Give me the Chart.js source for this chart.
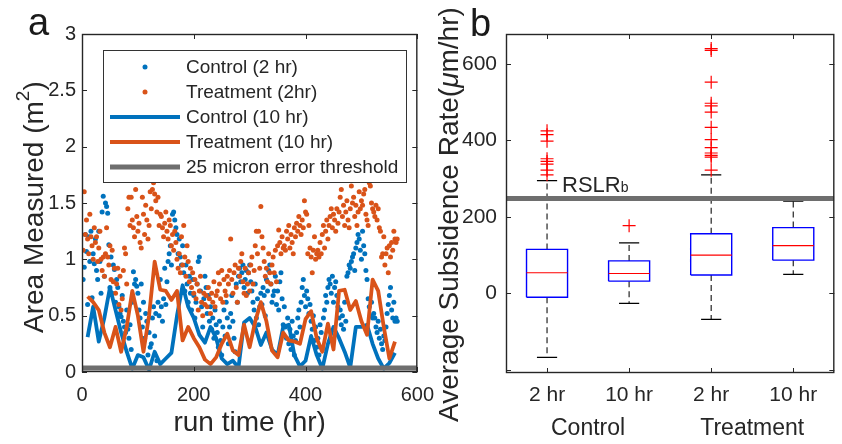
<!DOCTYPE html>
<html><head><meta charset="utf-8">
<script src="https://cdn.jsdelivr.net/npm/chart.js@4.4.1/dist/chart.umd.min.js"></script>
<style>
html,body{margin:0;padding:0;background:#fff;}
#wrap{position:relative;width:842px;height:444px;overflow:hidden;background:#fff;}
#ca{position:absolute;left:0;top:0;width:445px;height:444px;}
#cb{position:absolute;left:430px;top:0;width:412px;height:444px;}
</style></head><body>
<div id="wrap"><canvas id="ca" width="445" height="444"></canvas><canvas id="cb" width="412" height="444"></canvas></div>
<script>
// ---------- Panel a data ----------
// Control / Treatment sampled every 2 hr (values in m^2), starting at 2 hr
const control2hr = [
0.82,0.93,1.22,1.07,0.60,1.20,0.98,1.25,0.66,1.05,
0.96,1.18,0.90,0.82,1.25,0.98,0.70,1.42,1.56,0.85,
1.50,1.47,1.41,1.13,0.75,1.02,0.70,0.95,0.91,0.62,
0.82,0.75,0.58,0.52,0.49,0.68,0.45,0.40,0.35,0.55,
0.38,0.30,0.42,0.20,0.62,0.89,0.78,0.82,0.76,0.70,
0.55,0.48,0.78,0.40,0.62,0.30,0.52,0.45,0.15,0.35,
0.22,0.25,0.48,0.58,0.32,0.52,0.10,0.62,0.50,0.82,
0.58,0.45,0.65,0.92,0.60,0.80,0.98,1.05,1.12,0.95,
1.40,1.42,1.35,1.28,1.22,1.05,1.18,1.02,0.95,1.12,
0.88,0.72,0.95,0.78,0.62,0.85,0.70,0.55,0.82,0.68,
0.48,0.62,0.78,0.98,1.02,0.72,0.58,0.40,0.65,0.85,
0.75,0.52,0.68,0.45,0.58,0.38,0.48,0.30,0.55,0.42,
0.35,0.22,0.45,0.28,0.15,0.40,0.55,0.32,0.62,0.48,
0.25,0.40,0.52,0.68,0.45,0.30,0.18,0.78,0.62,0.85,
0.92,0.80,0.88,0.95,0.75,0.82,0.90,0.70,0.88,0.95,
0.80,0.72,0.62,0.55,0.78,0.48,0.65,0.42,0.58,0.70,
0.60,0.75,0.68,0.50,0.82,0.72,0.90,0.95,0.78,0.62,
0.68,0.72,0.85,0.60,0.72,0.55,0.80,0.88,0.65,0.42,
0.58,0.40,0.30,0.48,0.25,0.38,0.20,0.45,0.32,0.15,
0.28,0.35,0.48,0.55,0.40,0.62,0.75,0.82,0.68,0.58,
0.72,0.65,0.52,0.60,0.45,0.38,0.50,0.28,0.40,0.22,
0.30,0.15,0.42,0.35,0.20,0.48,0.55,0.68,0.62,0.75,
0.82,0.78,0.70,0.85,0.62,0.75,0.80,0.68,0.58,0.48,
0.55,0.42,0.50,0.38,0.62,0.45,0.85,0.88,0.95,0.92,
0.98,1.02,1.05,0.90,1.10,1.15,1.22,1.18,1.08,1.00,
1.25,1.12,1.05,0.90,0.82,0.65,0.58,0.50,0.62,0.48,
0.52,0.48,0.40,0.35,0.45,0.30,0.38,0.25,0.20,0.32,
0.28,0.40,0.52,0.60,0.68,0.75,0.55,0.48,0.62,0.45,
0.48,0.45];
const treatment2hr = [
1.08,1.60,1.22,1.35,1.18,1.05,1.40,1.20,1.12,1.00,
1.28,1.15,1.20,0.98,1.10,1.25,1.00,0.90,1.02,0.85,
1.05,1.28,1.02,0.95,1.12,0.82,1.08,0.80,0.92,0.70,
0.78,0.92,0.60,0.85,0.55,0.65,0.90,1.10,1.05,0.78,
1.45,1.55,1.30,1.55,1.35,1.28,1.20,1.62,1.38,1.25,
1.32,1.15,1.10,1.55,1.40,1.22,1.48,1.35,1.18,1.30,
1.60,1.45,1.62,1.68,1.58,1.52,1.42,1.55,1.30,1.40,
1.38,1.28,1.20,1.32,1.42,1.25,1.18,1.35,1.30,1.12,
1.22,1.08,1.25,1.15,1.00,0.92,1.05,0.88,1.20,0.95,
1.30,1.02,0.85,1.12,0.98,0.80,0.92,0.75,0.88,0.70,
0.82,0.65,0.78,0.55,0.72,0.85,0.62,0.50,0.70,0.60,
0.68,0.58,0.75,0.65,0.52,0.70,0.62,0.80,0.58,0.68,
0.72,0.88,0.78,0.65,0.90,0.62,0.82,0.72,0.68,0.85,
0.78,0.90,1.18,0.82,0.70,0.88,0.95,0.75,0.62,0.92,
0.85,0.98,1.05,0.80,0.70,0.92,0.68,0.78,0.88,0.72,
0.95,1.02,0.78,0.90,1.12,1.25,1.05,1.25,0.92,1.47,
1.20,1.10,0.98,0.85,0.92,0.80,1.05,0.88,0.78,0.95,
1.02,0.88,1.08,0.80,1.12,1.26,1.15,1.05,1.20,1.10,
1.12,1.08,1.25,1.18,1.30,1.10,1.22,1.15,1.05,1.28,
1.20,1.32,1.25,1.38,1.30,1.22,1.35,1.28,1.52,1.42,
1.40,1.05,1.30,1.10,1.02,0.88,1.08,1.20,1.00,1.05,
1.08,1.02,1.15,1.05,1.22,1.30,1.10,1.25,1.35,1.18,
1.30,1.38,1.45,1.28,1.40,1.35,1.25,1.45,1.32,1.42,
1.55,1.62,1.38,1.48,1.30,1.42,1.52,1.35,1.28,1.45,
1.65,1.50,1.55,1.38,1.48,1.30,1.42,1.60,1.45,1.52,
1.48,1.58,1.62,1.40,1.35,1.30,1.68,1.65,1.50,1.45,
1.42,1.38,1.48,1.35,1.45,1.28,1.25,1.02,1.05,1.20,
0.95,1.05,1.10,0.88,1.12,1.02,1.15,1.08,1.25,1.18,
1.15,1.18];
// Control / Treatment sampled every 10 hr, starting at 10 hr
const control10hr = [
0.31,0.58,0.27,0.48,0.75,0.55,0.35,0.18,0.03,0.15,
0.13,0.02,0.18,0.07,0.12,0.17,0.50,0.77,0.58,0.48,
0.33,0.26,0.40,0.30,0.12,0.07,0.10,0.04,0.44,0.48,
0.40,0.24,0.35,0.20,0.15,0.40,0.42,0.15,0.05,0.10,
0.32,0.15,0.03,0.25,0.40,0.30,0.18,0.04,0.40,0.40,
0.42,0.25,0.12,0.03,0.08,0.17];
const treatment10hr = [
0.67,0.62,0.55,0.35,0.22,0.40,0.18,0.40,0.72,0.50,
0.18,0.50,0.98,0.73,0.72,0.64,0.72,0.28,0.40,0.30,
0.22,0.11,0.07,0.13,0.25,0.34,0.19,0.15,0.42,0.22,
0.45,0.62,0.45,0.19,0.13,0.35,0.28,0.27,0.25,0.47,
0.54,0.30,0.18,0.43,0.20,0.72,0.73,0.55,0.63,0.45,
0.33,0.82,0.72,0.40,0.12,0.27];
const errorThreshold = 0.035;      // m^2, 25 micron error threshold
const runTimeRange = [0, 600];
const areaTicks = [0, 0.5, 1, 1.5, 2, 2.5, 3];
const runTimeTicks = [0, 200, 400, 600];
const seriesLabels = ['Control (2 hr)', 'Treatment (2hr)', 'Control (10 hr)', 'Treatment (10 hr)', '25 micron error threshold'];

// ---------- Panel b data ----------
const boxLabels = ['2 hr', '10 hr', '2 hr', '10 hr'];
const groupLabels = ['Control', 'Treatment'];
const whiskerLow  = [-167, -26, -68, 50];
const quartile1   = [-10, 32, 48, 87];
const medianVal   = [54, 52, 100, 125];
const quartile3   = [115, 85, 156, 172];
const whiskerHigh = [295, 132, 310, 241];
const outlierVals = [
  [425, 415, 398, 352, 345, 338, 322, 310],
  [177],
  [640, 635, 552, 497, 490, 474, 434, 402, 381, 367, 361, 356, 322],
  []
];
const rslrValue = 248;
const rateTicks = [-200, 0, 200, 400, 600];
const rateTickLabels = [0, 200, 400, 600];
const rateRange = [-208, 678];

// ---------- style ----------
const FONT = '"Liberation Sans", Arial, Helvetica, sans-serif';
const TEXT = '#262626';
const BLUE = '#0072BD', ORANGE = '#D95319', GRAY = '#6e6e6e';
Chart.defaults.font.family = FONT;
Chart.defaults.color = TEXT;

const frameTicks = {
  id: 'frameTicks',
  afterDatasetsDraw(chart, args, opts) {
    const {ctx, chartArea: a, scales} = chart;
    const L = opts.len || 5;
    ctx.save();
    ctx.strokeStyle = TEXT;
    ctx.lineWidth = 1;
    ctx.beginPath();
    for (const t of scales.x.ticks) {
      const px = Math.round(scales.x.getPixelForValue(t.value)) + 0.5;
      ctx.moveTo(px, a.bottom); ctx.lineTo(px, a.bottom - L);
      ctx.moveTo(px, a.top); ctx.lineTo(px, a.top + L);
    }
    for (const t of scales.y.ticks) {
      const py = Math.round(scales.y.getPixelForValue(t.value)) + 0.5;
      ctx.moveTo(a.left, py); ctx.lineTo(a.left + L, py);
      ctx.moveTo(a.right, py); ctx.lineTo(a.right - L, py);
    }
    ctx.stroke();
    ctx.lineWidth = 1.4;
    ctx.strokeRect(a.left + 0.5, a.top + 0.5, a.right - a.left - 1, a.bottom - a.top - 1);
    ctx.restore();
  }
};

const panelLetter = {
  id: 'panelLetter',
  afterDraw(chart, args, opts) {
    const ctx = chart.ctx;
    ctx.save();
    ctx.font = '38px ' + FONT;
    ctx.fillStyle = '#1a1a1a';
    ctx.textBaseline = 'alphabetic';
    ctx.fillText(opts.text, opts.x, opts.y);
    ctx.restore();
  }
};

// rotated y-axis title made of styled parts (superscript / italic)
const richYTitle = {
  id: 'richYTitle',
  afterDraw(chart, args, opts) {
    const ctx = chart.ctx;
    ctx.save();
    ctx.translate(opts.x, opts.y);
    ctx.rotate(-Math.PI / 2);
    ctx.fillStyle = TEXT;
    ctx.textBaseline = 'alphabetic';
    let pos = 0;
    for (const p of opts.parts) {
      ctx.font = (p.italic ? 'italic ' : '') + p.size + 'px ' + FONT;
      ctx.fillText(p.text, pos, -(p.rise || 0));
      pos += ctx.measureText(p.text).width;
    }
    ctx.restore();
  }
};

const boxLegend = {
  id: 'boxLegend',
  afterDatasetsDraw(chart) {
    const {ctx, chartArea: a} = chart;
    const x0 = a.left + 21, y0 = a.top + 16, w = 303, h = 132;
    ctx.save();
    ctx.fillStyle = '#fff';
    ctx.fillRect(x0, y0, w, h);
    ctx.strokeStyle = '#333';
    ctx.lineWidth = 1;
    ctx.strokeRect(x0 + 0.5, y0 + 0.5, w, h);
    ctx.font = '19px ' + FONT;
    ctx.textBaseline = 'middle';
    chart.data.datasets.forEach((ds, i) => {
      const y = y0 + 17 + i * 25;
      if (ds.showLine === false) {
        ctx.fillStyle = ds.pointBackgroundColor;
        ctx.beginPath(); ctx.arc(x0 + 42, y, ds.pointRadius, 0, Math.PI * 2); ctx.fill();
      } else {
        ctx.strokeStyle = ds.borderColor;
        ctx.lineWidth = ds.borderWidth;
        ctx.beginPath(); ctx.moveTo(x0 + 7, y); ctx.lineTo(x0 + 77, y); ctx.stroke();
      }
      ctx.fillStyle = TEXT;
      ctx.fillText(ds.label, x0 + 83, y + 1);
    });
    ctx.restore();
  }
};

// ---------- Panel a chart ----------
const hours2 = control2hr.map((_, i) => 2 * (i + 1));
const hours10 = control10hr.map((_, i) => 10 * (i + 1));
const pts = (xs, ys) => ys.map((v, i) => ({x: xs[i], y: v}));

new Chart(document.getElementById('ca'), {
  type: 'line',
  data: {
    datasets: [
      {label: seriesLabels[0], data: pts(hours2, control2hr), showLine: false, pointRadius: 2.5,
       pointBackgroundColor: BLUE, pointBorderWidth: 0, order: 4},
      {label: seriesLabels[1], data: pts(hours2, treatment2hr), showLine: false, pointRadius: 2.5,
       pointBackgroundColor: ORANGE, pointBorderWidth: 0, order: 3},
      {label: seriesLabels[2], data: pts(hours10, control10hr), borderColor: BLUE, borderWidth: 3.8,
       pointRadius: 0, tension: 0, borderJoinStyle: 'round', order: 2},
      {label: seriesLabels[3], data: pts(hours10, treatment10hr), borderColor: ORANGE, borderWidth: 3.8,
       pointRadius: 0, tension: 0, borderJoinStyle: 'round', order: 1},
      {label: seriesLabels[4], data: runTimeRange.map(x => ({x, y: errorThreshold})), borderColor: GRAY,
       borderWidth: 5, pointRadius: 0, order: 0}
    ]
  },
  options: {
    responsive: false, animation: false, events: [],
    layout: {padding: {top: 34, right: 24, bottom: 0, left: 0}},
    plugins: {legend: {display: false}, tooltip: {enabled: false},
      frameTicks: {len: 5}, panelLetter: {text: 'a', x: 28, y: 35},
      richYTitle: {x: 43, y: 333, parts: [
        {text: 'Area Measured (m', size: 28},
        {text: '2', size: 19, rise: 14},
        {text: ')', size: 28}]}},
    scales: {
      x: {type: 'linear', min: runTimeRange[0], max: runTimeRange[1],
        afterBuildTicks: s => { s.ticks = runTimeTicks.map(v => ({value: v})); },
        afterFit: s => { s.height = 72; },
        grid: {display: false, drawTicks: false}, border: {display: false},
        ticks: {font: {size: 20}, color: TEXT, padding: 11, maxRotation: 0, callback: v => String(v)},
        title: {display: true, text: 'run time (hr)', font: {size: 28}, color: TEXT, padding: {top: 0, bottom: 4}}},
      y: {type: 'linear', min: areaTicks[0], max: areaTicks[areaTicks.length - 1],
        afterBuildTicks: s => { s.ticks = areaTicks.map(v => ({value: v})); },
        afterFit: s => { s.width = 82; },
        grid: {display: false, drawTicks: false}, border: {display: false},
        ticks: {font: {size: 20}, color: TEXT, padding: 6, callback: v => String(v)}}
    }
  },
  plugins: [boxLegend, frameTicks, panelLetter, richYTitle]
});

// ---------- Panel b chart ----------
const BOX_HALF = 0.25, CAP_HALF = 0.123;
const boxPts = [], medPts = [], whiskPts = [], capPts = [], outPts = [];
boxLabels.forEach((_, i) => {
  const x = i + 1;
  boxPts.push({x: x - BOX_HALF, y: quartile1[i]}, {x: x + BOX_HALF, y: quartile1[i]},
              {x: x + BOX_HALF, y: quartile3[i]}, {x: x - BOX_HALF, y: quartile3[i]},
              {x: x - BOX_HALF, y: quartile1[i]}, {x, y: null});
  medPts.push({x: x - BOX_HALF, y: medianVal[i]}, {x: x + BOX_HALF, y: medianVal[i]}, {x, y: null});
  whiskPts.push({x, y: quartile3[i]}, {x, y: whiskerHigh[i]}, {x, y: null},
                {x, y: quartile1[i]}, {x, y: whiskerLow[i]}, {x, y: null});
  capPts.push({x: x - CAP_HALF, y: whiskerHigh[i]}, {x: x + CAP_HALF, y: whiskerHigh[i]}, {x, y: null},
              {x: x - CAP_HALF, y: whiskerLow[i]}, {x: x + CAP_HALF, y: whiskerLow[i]}, {x, y: null});
  outlierVals[i].forEach(v => outPts.push({x, y: v}));
});

const rslrLabel = {
  id: 'rslrLabel',
  afterDatasetsDraw(chart) {
    const {ctx, scales} = chart;
    const x = scales.x.getPixelForValue(1) + 15;
    const y = scales.y.getPixelForValue(rslrValue) - 7;
    ctx.save();
    ctx.fillStyle = TEXT;
    ctx.textBaseline = 'alphabetic';
    ctx.font = '22px ' + FONT;
    ctx.fillText('RSLR', x, y);
    const w = ctx.measureText('RSLR').width;
    ctx.font = '14px ' + FONT;
    ctx.fillText('b', x + w, y);
    ctx.restore();
  }
};

new Chart(document.getElementById('cb'), {
  type: 'line',
  data: {
    datasets: [
      {label: 'RSLR', data: [0.5, 4.5].map(x => ({x, y: rslrValue})), borderColor: GRAY, borderWidth: 5, pointRadius: 0, order: 0},
      {label: 'outliers', data: outPts, showLine: false, pointStyle: 'cross', pointRadius: 6.5,
       pointBorderColor: '#ff0000', pointBorderWidth: 1.2, order: 1},
      {label: 'caps', data: capPts, borderColor: '#000', borderWidth: 1.2, pointRadius: 0, spanGaps: false, order: 2},
      {label: 'median', data: medPts, borderColor: '#ff0000', borderWidth: 1.1, pointRadius: 0, spanGaps: false, order: 3},
      {label: 'box', data: boxPts, borderColor: '#0000ff', borderWidth: 1.4, pointRadius: 0, spanGaps: false, tension: 0, order: 4},
      {label: 'whisker', data: whiskPts, borderColor: '#222', borderWidth: 1.2, borderDash: [6, 4], pointRadius: 0, spanGaps: false, order: 5}
    ]
  },
  options: {
    responsive: false, animation: false, events: [],
    layout: {padding: {top: 34, right: 0, bottom: 0, left: 0}},
    plugins: {legend: {display: false}, tooltip: {enabled: false},
      frameTicks: {len: 5}, panelLetter: {text: 'b', x: 40, y: 36},
      richYTitle: {x: 28, y: 422, parts: [
        {text: 'Average Subsidence Rate(', size: 28},
        {text: '\u03BC', size: 28, italic: true},
        {text: 'm/hr)', size: 28}]}},
    scales: {
      x: {type: 'linear', min: 0.5, max: boxLabels.length + 0.5, weight: 0,
        afterBuildTicks: s => { s.ticks = boxLabels.map((_, i) => ({value: i + 1})); },
        afterFit: s => { s.height = 40; },
        grid: {display: false, drawTicks: false}, border: {display: false},
        ticks: {font: {size: 21}, color: TEXT, padding: 10, maxRotation: 0,
          callback: v => boxLabels[Math.round(v) - 1]}},
      x2: {type: 'category', labels: groupLabels, position: 'bottom', offset: true, weight: 1,
        afterFit: s => { s.height = 31; },
        grid: {display: false, drawTicks: false}, border: {display: false},
        ticks: {font: {size: 23}, color: TEXT, padding: 2, maxRotation: 0}},
      y: {type: 'linear', min: rateRange[0], max: rateRange[1],
        afterBuildTicks: s => { s.ticks = rateTicks.map(v => ({value: v})); },
        afterFit: s => { s.width = 76; },
        grid: {display: false, drawTicks: false}, border: {display: false},
        ticks: {font: {size: 21}, color: TEXT, padding: 9,
          callback: v => rateTickLabels.includes(v) ? String(v) : ''}}
    }
  },
  plugins: [rslrLabel, frameTicks, panelLetter, richYTitle]
});
</script>
</body></html>
